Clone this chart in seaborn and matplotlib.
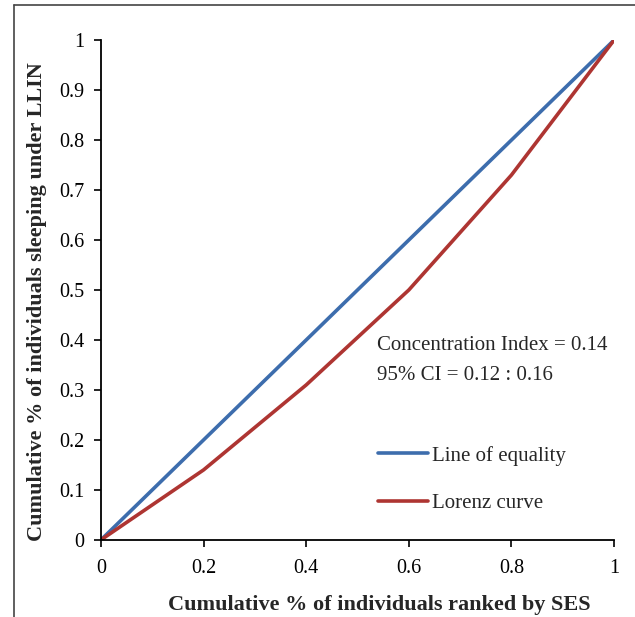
import pandas as pd
import seaborn as sns
import matplotlib.pyplot as plt
from matplotlib.lines import Line2D

# data
share_ranked = [0, 0.2, 0.4, 0.6, 0.8, 1]
equality = [0, 0.2, 0.4, 0.6, 0.8, 1]
lorenz = [0, 0.14, 0.31, 0.50, 0.73, 1]
series_names = ['Line of equality', 'Lorenz curve']
colors = ['#3D6DAD', '#AE3532']
ticks = [0, 0.1, 0.2, 0.3, 0.4, 0.5, 0.6, 0.7, 0.8, 0.9, 1]
xticks = [0, 0.2, 0.4, 0.6, 0.8, 1]


def build_frame():
    df_e = pd.DataFrame({'x': share_ranked, 'y': equality, 'series': series_names[0]})
    df_l = pd.DataFrame({'x': share_ranked, 'y': lorenz, 'series': series_names[1]})
    return pd.concat([df_e, df_l], ignore_index=True)


def tick_text(v):
    return '%g' % v


sns.set_style('ticks')
plt.rcParams['font.family'] = ['Liberation Serif', 'DejaVu Serif']

fig = plt.figure(figsize=(6.35, 6.17), dpi=100)
ax = fig.add_axes([0.159, 0.125, 0.808, 0.810])

df = build_frame()
sns.lineplot(data=df, x='x', y='y', hue='series', palette=colors,
             linewidth=2.6, ax=ax, legend=True)

ax.set_xlim(0, 1)
ax.set_ylim(0, 1)
ax.set_xticks(xticks)
ax.set_xticklabels([tick_text(v) for v in xticks])
ax.set_yticks(ticks)
ax.set_yticklabels([tick_text(v) for v in ticks])
ax.tick_params(axis='both', labelsize=14.5, length=5, width=1.2, color='black',
               labelcolor='black', direction='out')
ax.tick_params(axis='x', pad=9)
ax.tick_params(axis='y', pad=7)
sns.despine(ax=ax)
for side in ['left', 'bottom']:
    ax.spines[side].set_linewidth(1.3)
    ax.spines[side].set_color('black')
ax.patch.set_alpha(0)

ax.set_xlabel('Cumulative % of individuals ranked by SES', fontsize=16,
              fontweight='bold', labelpad=12)
ax.set_ylabel('Cumulative % of individuals sleeping under LLIN', fontsize=16,
              fontweight='bold', labelpad=9)
# the original labels sit a little off the axes centre
ax.xaxis.label.set_x(0.542)
ax.yaxis.label.set_y(0.476)

ax.text(0.538, 0.388, 'Concentration Index = 0.14', transform=ax.transAxes,
        fontsize=15, va='center')
ax.text(0.538, 0.328, '95% CI = 0.12 : 0.16', transform=ax.transAxes,
        fontsize=15, va='center')

leg = ax.legend(loc='upper left', bbox_to_anchor=(0.524, 0.205), frameon=False,
                fontsize=15, handlelength=2.4, handletextpad=0.2,
                labelspacing=1.35, borderaxespad=0)
for h in leg.get_lines():
    h.set_linewidth(2.6)

# outer frame like the original export
fig.add_artist(Line2D([14 / 635, 1], [1 - 5 / 617, 1 - 5 / 617],
                      transform=fig.transFigure, color='#444444', lw=1.2))
fig.add_artist(Line2D([14 / 635, 14 / 635], [0, 1 - 5 / 617],
                      transform=fig.transFigure, color='#444444', lw=1.2))

fig.savefig('out.png', dpi=100)
